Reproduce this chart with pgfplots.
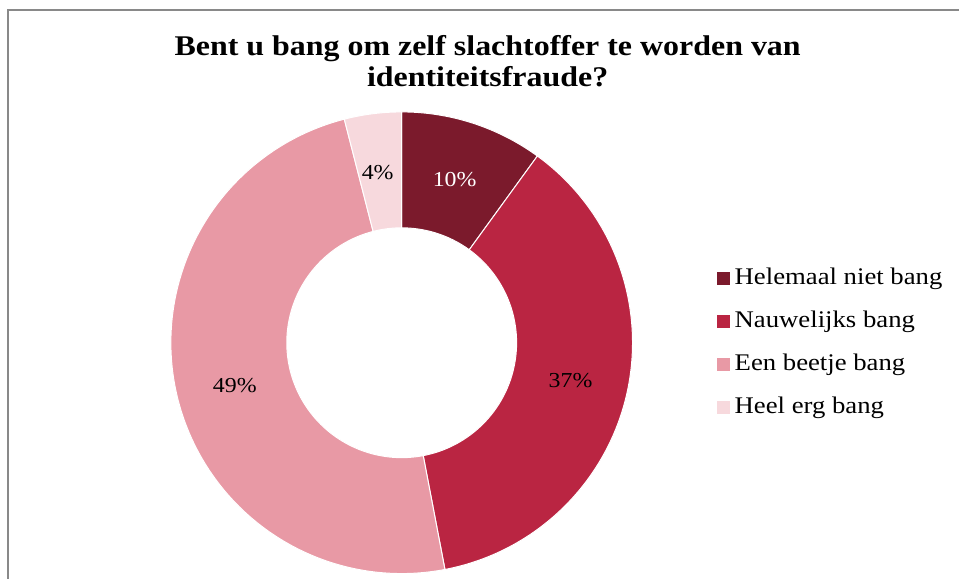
\documentclass[border=0pt]{standalone}
\usepackage{fontspec}
\setmainfont{Liberation Serif}[FakeStretch=1.12]
\usepackage{pgfplots}
\pgfplotsset{compat=1.18}
\definecolor{cA}{HTML}{7B1A2C}
\definecolor{cB}{HTML}{BA2542}
\definecolor{cC}{HTML}{E899A5}
\definecolor{cD}{HTML}{F7D9DD}
\definecolor{frame}{HTML}{898989}
\begin{document}
\begin{tikzpicture}
\begin{axis}[
  width=720pt, height=434.25pt, scale only axis,
  xmin=0, xmax=960, ymin=0, ymax=579,
  hide axis, clip=false,
  domain=0:2.005, samples=402,
  declare function={dr(\t)=ifthenelse(\t<1.0025,231,115);
                    df(\t)=ifthenelse(\t<1.0025,min(\t,1),max(2.005-\t,0));},
  legend style={draw=none, fill=none, inner sep=0pt,
    at={(axis cs:717,235.5)}, anchor=west, row sep=15.25pt,
    nodes={inner ysep=0pt, inner xsep=3.75pt, text height=12.5pt, text depth=4.5pt,
           font=\fontsize{17.9}{21}\selectfont}},
  legend cell align=left,
  legend image code/.code={\path[#1,draw=none] (0pt,-4.875pt) rectangle (9.75pt,4.875pt);},
]
\path (rel axis cs:0,0) rectangle (rel axis cs:1,1);
% values: 10, 37, 49, 4 (percent), clockwise from the top
\addplot[fill=cA, draw=white, line width=0.75pt]
  ({402+dr(x)*cos(90-3.6*(0+10*df(x)))},{236+dr(x)*sin(90-3.6*(0+10*df(x)))}) -- cycle;
\addlegendentry{Helemaal niet bang}
\addplot[fill=cB, draw=white, line width=0.75pt]
  ({402+dr(x)*cos(90-3.6*(10+37*df(x)))},{236+dr(x)*sin(90-3.6*(10+37*df(x)))}) -- cycle;
\addlegendentry{Nauwelijks bang}
\addplot[fill=cC, draw=white, line width=0.75pt]
  ({402+dr(x)*cos(90-3.6*(47+49*df(x)))},{236+dr(x)*sin(90-3.6*(47+49*df(x)))}) -- cycle;
\addlegendentry{Een beetje bang}
\addplot[fill=cD, draw=white, line width=0.75pt]
  ({402+dr(x)*cos(90-3.6*(96+4*df(x)))},{236+dr(x)*sin(90-3.6*(96+4*df(x)))}) -- cycle;
\addlegendentry{Heel erg bang}
\node[font=\fontsize{16}{19}\selectfont, text=white] at (axis cs:455,399) {10\%};
\node[font=\fontsize{16}{19}\selectfont] at (axis cs:378,406) {4\%};
\node[font=\fontsize{16}{19}\selectfont] at (axis cs:235,193) {49\%};
\node[font=\fontsize{16}{19}\selectfont] at (axis cs:571,198) {37\%};
\node[font=\bfseries\fontsize{21.4}{25}\selectfont, anchor=base, inner sep=0pt] at (axis cs:488,523) {Bent u bang om zelf slachtoffer te worden van};
\node[font=\bfseries\fontsize{21.4}{25}\selectfont, anchor=base, inner sep=0pt] at (axis cs:488,492) {identiteitsfraude?};
\draw[frame, line width=1.1pt] (axis cs:8,0) -- (axis cs:8,569) -- (axis cs:960,569);
\end{axis}
\end{tikzpicture}
\end{document}
